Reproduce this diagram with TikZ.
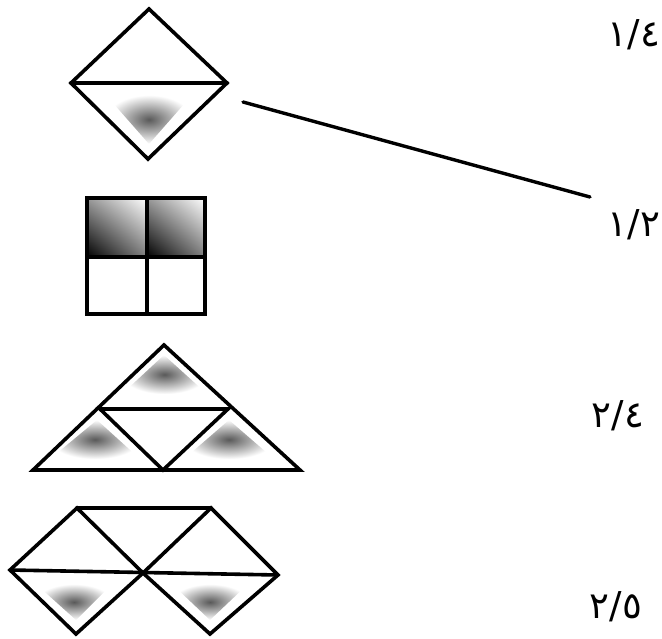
\documentclass[tikz,border=0pt]{standalone}
\usepackage{fontspec}
\usetikzlibrary{shadings}
\newfontfamily\digfont{DejaVu Sans}
\begin{document}
\begin{tikzpicture}[x=1pt,y=-1pt,
  edge/.style={line width=3.6pt,line join=miter,line cap=round},
  blob/.style={inner color=black!65,outer color=white},
  frac/.style={font=\digfont\fontsize{37}{40}\selectfont,inner sep=0pt}]
\useasboundingbox (0,0) rectangle (662,638);
% --- diamond 1 ---
\shade[blob] (106,95) -- (192,95) -- (149,144) -- cycle;
\draw[edge] (149,9) -- (227,83) -- (148,159) -- (71,83) -- cycle;
\draw[edge] (71,83) -- (227,83);
% --- square ---
\shade[lower left=black,upper left=black!40,lower right=black!50,upper right=white] (87,198) rectangle (147,257);
\shade[lower left=black,upper left=black!40,lower right=black!50,upper right=white] (147,198) rectangle (205,257);
\draw[edge,line cap=butt] (87,198) rectangle (205,314);
\draw[edge,line cap=butt] (147,198) -- (147,314) (87,257) -- (205,257);
% --- triangle ---
\shade[blob] (164,355) -- (207,394) -- (122,394) -- cycle;
\shade[blob] (97,420) -- (140,459) -- (50,459) -- cycle;
\shade[blob] (229,420) -- (274,459) -- (184,459) -- cycle;
\draw[edge] (164,345) -- (300,470) -- (33,470) -- cycle;
\draw[edge] (100,409) -- (228,409) -- (163,470) -- cycle;
% --- double diamond ---
\shade[blob] (36,584) -- (112,584) -- (76,620) -- cycle;
\shade[blob] (172,584) -- (248,584) -- (210,620) -- cycle;
\draw[edge] (77,508) -- (143,573) -- (76,634) -- (10,570) -- cycle;
\draw[edge] (211,508) -- (278,575) -- (210,634) -- (143,573) -- cycle;
\draw[edge] (77,508) -- (211,508);
\draw[edge] (10,570) -- (278,575);
% --- labels ---
\node[frac] (q1) at (634,35) {١/٤};
\node[frac] (q2) at (634,225) {١/٢};
\node[frac] (q3) at (618,416) {٢/٤};
\node[frac] (q4) at (616,607) {٢/٥};
% --- connector ---
\coordinate (ls) at (243,102);
\coordinate (le) at (590,197);
\draw[line width=3.4pt,line cap=round] (ls) -- (le);
\end{tikzpicture}
\end{document}
